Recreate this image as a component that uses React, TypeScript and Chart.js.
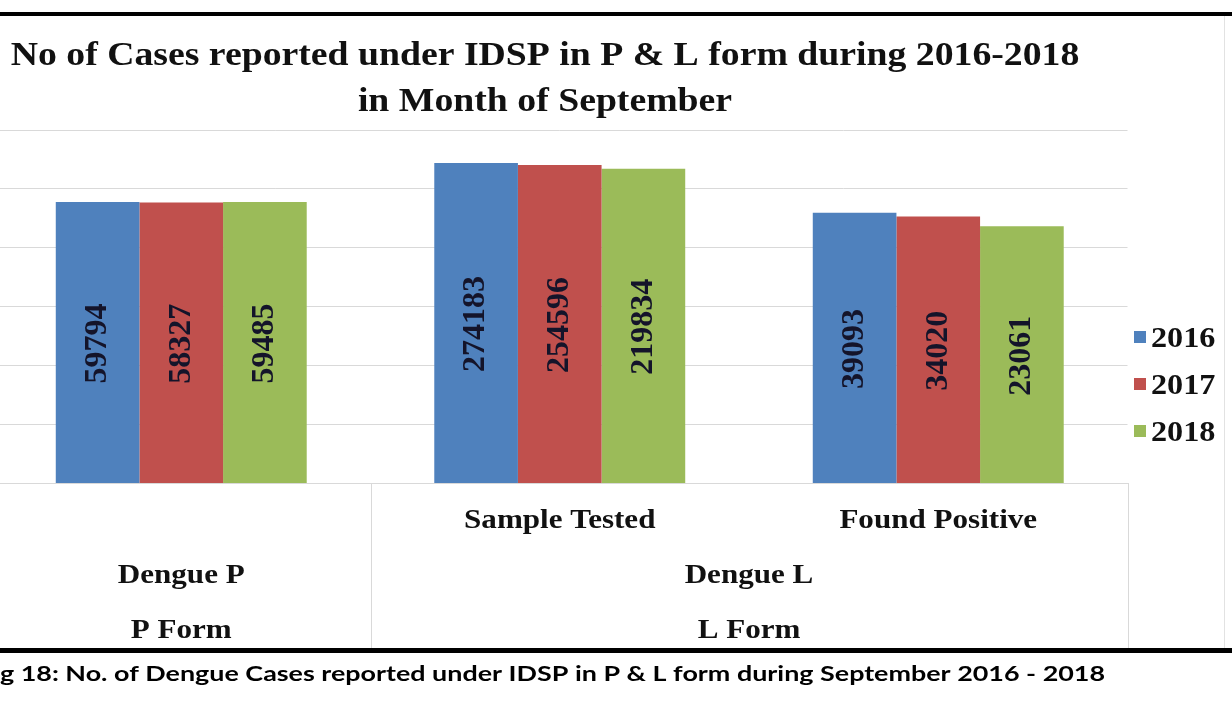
import React, { useEffect, useRef } from "react";
import { Chart, registerables } from "chart.js";

Chart.register(...registerables);

// ---- data ----
const categories = ["", "Sample Tested", "Found Positive"];
const groupLabels = ["Dengue P", "Dengue L"];
const formLabels = ["P Form", "L Form"];
const groupSpans = [
  [0, 0],
  [1, 2],
];
const seriesNames = ["2016", "2017", "2018"];
const values2016 = [59794, 274183, 39093];
const values2017 = [58327, 254596, 34020];
const values2018 = [59485, 219834, 23061];
const seriesColors = ["#4F81BD", "#C0504D", "#9BBB59"];
const yTicks = [1, 10, 100, 1000, 10000, 100000, 1000000];
const titleLines = [
  "No of Cases reported under IDSP in P & L form during 2016-2018",
  "in Month of September",
];
const caption =
  "g 18: No. of Dengue Cases reported under IDSP in P & L form during September 2016 - 2018";

// ---- layout ----
const CANVAS_W = 1300;
const CANVAS_H = 706;
const OX = 60; // canvas is shifted left by this much
const SERIF = '"Liberation Serif", "Times New Roman", serif';
const STRETCH = 1.11;

function stretchedText(
  ctx: CanvasRenderingContext2D,
  text: string,
  x: number,
  y: number,
  size: number,
  align: "left" | "center",
  sx: number = STRETCH
) {
  ctx.save();
  ctx.font = `bold ${size}px ${SERIF}`;
  ctx.textBaseline = "alphabetic";
  ctx.textAlign = align;
  ctx.translate(x, y);
  ctx.scale(sx, 1);
  ctx.fillText(text, 0, 0);
  ctx.restore();
}

const decorPlugin = {
  id: "decor",
  beforeDraw(chart: any) {
    const ctx = chart.ctx as CanvasRenderingContext2D;
    ctx.save();
    ctx.fillStyle = "#ffffff";
    ctx.fillRect(0, 0, chart.width, chart.height);
    ctx.restore();
  },
  afterDatasetsDraw(chart: any) {
    const ctx = chart.ctx as CanvasRenderingContext2D;
    ctx.save();
    ctx.fillStyle = "#14142a";
    ctx.font = `bold 32px ${SERIF}`;
    ctx.textAlign = "center";
    ctx.textBaseline = "middle";
    chart.data.datasets.forEach((ds: any, di: number) => {
      const meta = chart.getDatasetMeta(di);
      meta.data.forEach((el: any, i: number) => {
        const yc = (el.y + el.base) / 2;
        ctx.save();
        ctx.translate(el.x, yc + 1);
        ctx.rotate(-Math.PI / 2);
        ctx.fillText(String(ds.data[i]), 0, 0);
        ctx.restore();
      });
    });
    ctx.restore();
  },
  afterDraw(chart: any) {
    const ctx = chart.ctx as CanvasRenderingContext2D;
    const area = chart.chartArea;
    const xs = chart.scales.x;
    const catW = xs.getPixelForValue(1) - xs.getPixelForValue(0);

    // black frame lines
    ctx.save();
    ctx.fillStyle = "#000000";
    ctx.fillRect(0, 12, chart.width, 4);
    ctx.fillRect(0, 648, chart.width, 5);
    // light right border of chart frame
    ctx.strokeStyle = "#e2e2e2";
    ctx.lineWidth = 1;
    ctx.beginPath();
    ctx.moveTo(OX + 1224.5, 16);
    ctx.lineTo(OX + 1224.5, 648);
    ctx.stroke();
    ctx.restore();

    // title
    ctx.save();
    ctx.fillStyle = "#111111";
    stretchedText(ctx, titleLines[0], OX + 545, 65, 34, "center");
    stretchedText(ctx, titleLines[1], OX + 545, 111, 34, "center");
    ctx.restore();

    // category axis labels (3 levels)
    ctx.save();
    ctx.fillStyle = "#111111";
    categories.forEach((c, i) => {
      if (!c) return;
      stretchedText(ctx, c, xs.getPixelForValue(i), 528, 28, "center");
    });
    groupSpans.forEach((span, gi) => {
      const cx =
        (xs.getPixelForValue(span[0]) + xs.getPixelForValue(span[1])) / 2;
      stretchedText(ctx, groupLabels[gi], cx, 583, 28, "center");
      stretchedText(ctx, formLabels[gi], cx, 638, 28, "center");
    });
    // separators
    ctx.strokeStyle = "#d9d9d9";
    ctx.lineWidth = 1;
    const bounds: number[] = [];
    groupSpans.forEach((span) => {
      bounds.push(xs.getPixelForValue(span[0]) - catW / 2);
      bounds.push(xs.getPixelForValue(span[1]) + catW / 2);
    });
    Array.from(new Set(bounds.map((b) => Math.round(b)))).forEach((b) => {
      ctx.beginPath();
      ctx.moveTo(b + 0.5, area.bottom);
      ctx.lineTo(b + 0.5, 648);
      ctx.stroke();
    });
    ctx.restore();

    // legend
    ctx.save();
    chart.data.datasets.forEach((ds: any, i: number) => {
      const cy = 337 + i * 47;
      ctx.fillStyle = ds.backgroundColor;
      ctx.fillRect(OX + 1134, cy - 6, 12, 12);
      ctx.fillStyle = "#111111";
      stretchedText(ctx, ds.label, OX + 1151, cy + 10, 29, "left");
    });
    ctx.restore();

    // caption
    ctx.save();
    ctx.fillStyle = "#000000";
    const capFont = `bold 21px Lato, "Open Sans", sans-serif`;
    ctx.font = capFont;
    const w = ctx.measureText(caption).width;
    const sx = 1105 / w;
    ctx.textAlign = "left";
    ctx.textBaseline = "alphabetic";
    ctx.translate(OX + 0, 681);
    ctx.scale(sx, 1);
    ctx.fillText(caption, 0, 0);
    ctx.restore();
  },
};

export default function App() {
  const ref = useRef<HTMLCanvasElement | null>(null);

  useEffect(() => {
    if (!ref.current) return;
    const seriesValues = [values2016, values2017, values2018];
    const chart = new Chart(ref.current, {
      type: "bar",
      data: {
        labels: categories,
        datasets: seriesNames.map((name, i) => ({
          label: name,
          data: seriesValues[i],
          backgroundColor: seriesColors[i],
          borderWidth: 0,
          categoryPercentage: 0.663,
          barPercentage: 1,
        })),
      },
      options: {
        animation: false,
        responsive: false,
        maintainAspectRatio: false,
        layout: { padding: { left: OX - 8, right: CANVAS_W - (OX + 1127.5), top: 130, bottom: CANVAS_H - 483 } },
        plugins: {
          legend: { display: false },
          title: { display: false },
          tooltip: { enabled: false },
        },
        scales: {
          x: {
            grid: { display: false },
            ticks: { display: false },
            border: { display: true, color: "#d9d9d9" },
            afterFit: (s: any) => {
              s.height = 0;
            },
          },
          y: {
            type: "logarithmic",
            min: 1,
            max: 1000000,
            ticks: { display: false },
            grid: { color: "#d9d9d9", drawTicks: false },
            border: { display: false },
            afterBuildTicks: (s: any) => {
              s.ticks = yTicks.map((v) => ({ value: v }));
            },
            afterFit: (s: any) => {
              s.width = 0;
            },
          },
        },
      } as any,
      plugins: [decorPlugin],
    });
    return () => chart.destroy();
  }, []);

  return (
    <div
      style={{
        position: "absolute",
        left: 0,
        top: 0,
        width: 1232,
        height: 706,
        overflow: "hidden",
        background: "#ffffff",
      }}
    >
      <canvas
        ref={ref}
        width={CANVAS_W}
        height={CANVAS_H}
        style={{ position: "absolute", left: -OX, top: 0, width: CANVAS_W, height: CANVAS_H }}
      />
    </div>
  );
}
